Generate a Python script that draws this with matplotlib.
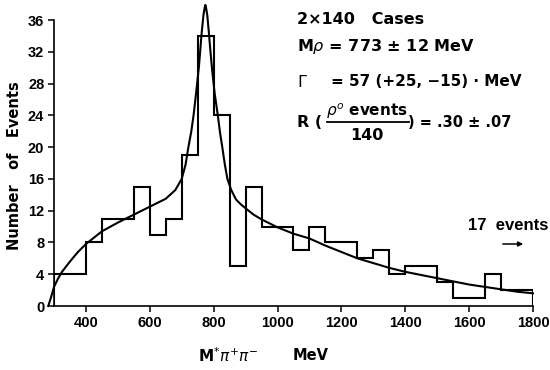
import matplotlib
matplotlib.use("Agg")
import matplotlib.pyplot as plt
import numpy as np

# histogram: 50 MeV bins from 300 to 1800 MeV
bin_edges = np.arange(300, 1801, 50)
counts = [4, 4, 8, 11, 11, 15, 9, 11, 19, 34, 24, 5, 15, 10, 10,
          7, 10, 8, 8, 6, 7, 4, 5, 5, 3, 1, 1, 4, 2, 2]

# fitted curve
curve_m = [282, 290, 300, 312, 325, 350, 375, 400, 450, 500, 550, 600, 650,
           680, 700, 712, 720, 730, 737, 745, 754, 762, 768, 772, 774, 776,
           780, 785, 790, 795, 803, 813, 820, 827, 835, 843, 855, 870, 885,
           900, 925, 950, 1000, 1050, 1100, 1150, 1200, 1250, 1300, 1350,
           1400, 1450, 1500, 1550, 1600, 1650, 1700, 1750, 1800]
curve_n = [0.0, 1.0, 2.4, 3.4, 4.3, 5.6, 6.8, 7.8, 9.4, 10.5, 11.5, 12.5, 13.5,
           14.6, 16.0, 17.8, 19.8, 22.0, 24.0, 26.8, 30.2, 34.2, 36.6, 37.6, 37.9, 37.6,
           36.6, 34.4, 32.0, 29.8, 26.8, 24.0, 21.8, 20.0, 17.8, 16.0, 14.6, 13.4, 12.8,
           12.3, 11.5, 10.9, 9.9, 9.1, 8.5, 7.6, 6.8, 6.0, 5.4, 4.8,
           4.3, 3.9, 3.5, 3.1, 2.7, 2.4, 2.1, 1.8, 1.6]

x_ticks = [400, 600, 800, 1000, 1200, 1400, 1600, 1800]
y_ticks = [0, 4, 8, 12, 16, 20, 24, 28, 32, 36]

W, H = 550, 370
def fx(p):
    return p / W
def fy(p):
    return 1 - p / H

fig = plt.figure(figsize=(5.5, 3.7), dpi=100)
ax = fig.add_axes([fx(54), fy(306), fx(533) - fx(54), fy(20) - fy(306)])

ax.stairs(counts, bin_edges, baseline=0, fill=False, color="black", lw=1.5)
ax.plot(curve_m, curve_n, color="black", lw=1.5, clip_on=False)

ax.set_xlim(300, 1800)
ax.set_ylim(0, 36)
ax.set_xticks(x_ticks)
ax.set_yticks(y_ticks)
for s in ["top", "right"]:
    ax.spines[s].set_visible(False)
for s in ["left", "bottom"]:
    ax.spines[s].set_linewidth(1.2)
ax.tick_params(direction="out", length=4, width=1.1, labelsize=10.5, pad=3)
for lab in ax.get_xticklabels() + ax.get_yticklabels():
    lab.set_fontweight("bold")
    lab.set_family("Liberation Sans")

# axis labels
fig.text(fx(15), fy(166), "Number   of   Events", rotation=90, ha="center",
         va="center", fontsize=10.5, fontweight="bold")
fig.text(fx(198), fy(356), r"M$^{*}\pi^{+}\pi^{-}$", ha="left", va="center",
         fontsize=11, fontweight="bold")
fig.text(fx(293), fy(356), "MeV", ha="left", va="center",
         fontsize=10.5, fontweight="bold")

# fit results
tkw = dict(ha="left", va="center", fontsize=11.5, fontweight="bold")
fig.text(fx(297), fy(20), "2×140   Cases", **tkw)
fig.text(fx(297), fy(47), r"M$\rho$ = 773 ± 12 MeV", **tkw)
fig.text(fx(297), fy(82), r"$\Gamma$", **tkw)
fig.text(fx(331), fy(82), "= 57 (+25, −15) · MeV", ha="left", va="center",
         fontsize=11, fontweight="bold")
fig.text(fx(297), fy(123), "R (", **tkw)
fig.text(fx(367), fy(111), r"$\rho^{o}$ events", ha="center", va="center",
         fontsize=11, fontweight="bold")
fig.add_artist(plt.Line2D([fx(327), fx(409)], [fy(122), fy(122)],
                          color="black", lw=1.3))
fig.text(fx(367), fy(135), "140", ha="center", va="center",
         fontsize=11.5, fontweight="bold")
fig.text(fx(408), fy(123), ") = .30 ± .07", ha="left", va="center",
         fontsize=10.5, fontweight="bold")

# overflow note
fig.text(fx(468), fy(225), "17  events", ha="left", va="center",
         fontsize=12, fontweight="bold", family="Liberation Sans")
fig.add_artist(matplotlib.patches.FancyArrowPatch(
    (fx(500), fy(244)), (fx(526), fy(244)), transform=fig.transFigure,
    arrowstyle="-|>", mutation_scale=7, color="black", lw=1.1))

fig.savefig("out.png", dpi=100)
